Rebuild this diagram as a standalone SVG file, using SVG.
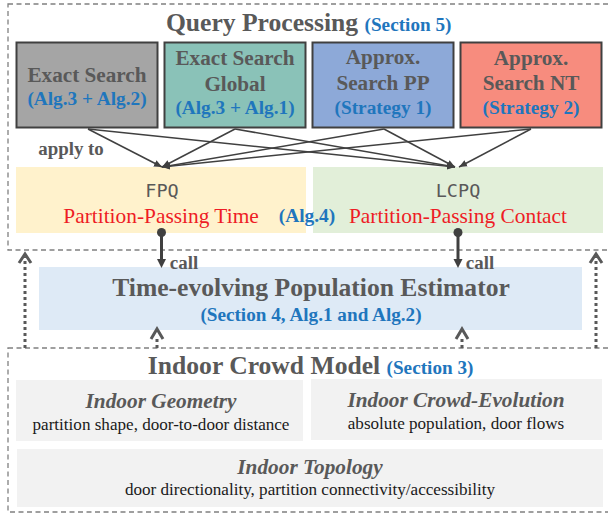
<svg xmlns="http://www.w3.org/2000/svg" width="608" height="513" viewBox="0 0 608 513">
<style>
text{font-family:"Liberation Serif",serif;text-anchor:middle}
.g{fill:#595959;font-weight:bold}
.b{fill:#1f76bd;font-weight:bold}
.r{fill:#ee1c25;font-size:21.400px}
.k{fill:#1a1a1a;font-size:17.100px}
.i{fill:#595959;font-weight:bold;font-style:italic;font-size:21.300px}
.m{fill:#595959;font-family:"DejaVu Sans Mono",monospace;font-size:18.500px}
.h{font-size:21.200px}.s{font-size:19.300px}.t{font-size:25.600px}.u{font-size:19.200px}.a{font-size:18.900px}
.frame{fill:none;stroke:#808080;stroke-width:1.3;stroke-dasharray:5 3.5}
.box{stroke:#404040;stroke-width:2}
.l{stroke:#404040;stroke-width:1.5;fill:none;marker-end:url(#a)}
.c{stroke:#404040;stroke-width:3;fill:none}
.d{stroke:#595959;stroke-width:3;stroke-dasharray:3 3;fill:none}
.ch{stroke:#595959;stroke-width:3;fill:none}
</style>
<defs>
<marker id="a" markerUnits="userSpaceOnUse" markerWidth="9" markerHeight="8" refX="8" refY="4" orient="auto"><path d="M0 0.5L8 4L0 7.5z" fill="#404040"/></marker>
</defs>
<rect width="608" height="513" fill="#fff"/>
<g id="frames">
<rect class="frame" x="8" y="4" width="610" height="246"/>
<rect class="frame" x="8" y="348" width="610" height="164"/>
</g>
<g id="query-title"><text class="g t" x="262" y="31">Query Processing</text><text class="b u" x="408" y="31">(Section 5)</text></g>
<g id="exact-search"><rect class="box" x="16.500" y="42.500" width="141" height="85" fill="#a5a5a5"/><text class="g h" x="87" y="82">Exact Search</text><text class="b s" x="87" y="105">(Alg.3 + Alg.2)</text></g>
<g id="exact-global"><rect class="box" x="164.500" y="42.500" width="141" height="85" fill="#8ac2b8"/><text class="g h" x="235" y="65">Exact Search</text><text class="g h" x="235" y="91">Global</text><text class="b s" x="235" y="114">(Alg.3 + Alg.1)</text></g>
<g id="approx-pp"><rect class="box" x="312.500" y="42.500" width="141" height="85" fill="#8da9d8"/><text class="g h" x="383" y="64">Approx.</text><text class="g h" x="383" y="90">Search PP</text><text class="b s" x="383" y="114">(Strategy 1)</text></g>
<g id="approx-nt"><rect class="box" x="460.500" y="42.500" width="141" height="85" fill="#f78c7e"/><text class="g h" x="531" y="65">Approx.</text><text class="g h" x="531" y="90">Search NT</text><text class="b s" x="531" y="114">(Strategy 2)</text></g>
<text class="g a" x="71" y="155">apply to</text>
<g id="fpq"><rect x="16" y="167" width="290" height="66" fill="#fff2cc"/><text class="m" x="162" y="197">FPQ</text><text class="r" x="161" y="223">Partition-Passing Time</text></g>
<g id="lcpq"><rect x="313" y="167" width="290" height="66" fill="#e2efd9"/><text class="m" x="458" y="197">LCPQ</text><text class="r" x="458" y="223">Partition-Passing Contact</text></g>
<text class="b" x="307" y="222" font-size="19.400">(Alg.4)</text>
<g id="estimator"><rect x="39" y="267" width="543" height="63" fill="#deeaf6"/><text class="g t" x="311" y="296">Time-evolving Population Estimator</text><text class="b u" x="311" y="321">(Section 4, Alg.1 and Alg.2)</text></g>
<g id="crowd-title"><text class="g t" x="264" y="374">Indoor Crowd Model</text><text class="b u" x="430" y="374">(Section 3)</text></g>
<g id="geometry"><rect x="16" y="380" width="287" height="61" fill="#f2f2f2"/><text class="i" x="161" y="408">Indoor Geometry</text><text class="k" x="161" y="430">partition shape, door-to-door distance</text></g>
<g id="evolution"><rect x="311" y="379" width="291" height="61" fill="#f2f2f2"/><text class="i" x="456" y="407">Indoor Crowd-Evolution</text><text class="k" x="456" y="429">absolute population, door flows</text></g>
<g id="topology"><rect x="17" y="449" width="586" height="58" fill="#f2f2f2"/><text class="i" x="310" y="474">Indoor Topology</text><text class="k" x="310" y="495">door directionality, partition connectivity/accessibility</text></g>
<g id="connectors">
<path class="l" d="M88 129L162 167"/><path class="l" d="M88 129L455 167"/>
<path class="l" d="M235 129L162 167"/><path class="l" d="M235 129L455 167"/>
<path class="l" d="M384 129L162 167"/><path class="l" d="M384 129L455 167"/>
<path class="l" d="M531 129L162 167"/><path class="l" d="M531 129L459 167"/>
<circle cx="161.500" cy="232.500" r="4.500" fill="#404040"/><path class="c" d="M161.500 232V260"/><path d="M157 259H166L161.500 268z" fill="#404040"/>
<circle cx="458" cy="232.500" r="4.500" fill="#404040"/><path class="c" d="M458 232V260"/><path d="M453.500 259H462.500L458 268z" fill="#404040"/>
<path class="d" d="M25 348V257"/><path class="ch" d="M19 263L25 254L31 263"/>
<path class="d" d="M596 348V257"/><path class="ch" d="M590 263L596 254L602 263"/>
<path class="d" d="M157 348V336"/><path class="ch" d="M151 339L157 329L163 339"/>
<path class="d" d="M462 348V336"/><path class="ch" d="M456 339L462 329L468 339"/>
</g>
<text class="g a" x="184" y="269">call</text>
<text class="g a" x="480" y="269">call</text>
</svg>
